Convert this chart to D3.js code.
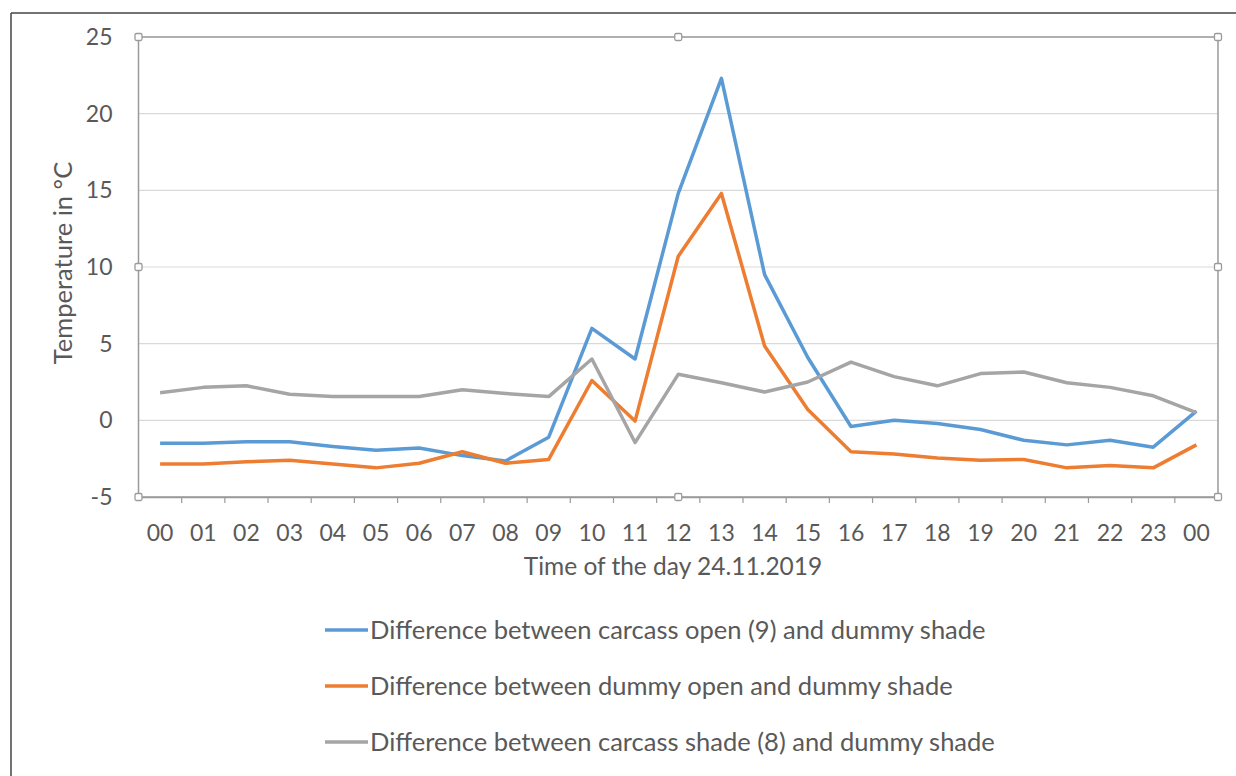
<!DOCTYPE html>
<html><head><meta charset="utf-8">
<script src="https://cdn.jsdelivr.net/npm/d3@7"></script>
<style>body{margin:0;background:#fff}svg{display:block}text{font-family:Lato,"Open Sans",sans-serif;fill:#595959}</style>
</head><body><svg id="c" width="1236" height="776"></svg>
<script>
const hours = ["00","01","02","03","04","05","06","07","08","09","10","11","12","13","14","15","16","17","18","19","20","21","22","23","00"];
const carcassOpen = [-1.5,-1.5,-1.4,-1.4,-1.7,-1.95,-1.8,-2.3,-2.65,-1.1,6.0,4.0,14.8,22.3,9.5,4.1,-0.4,0.0,-0.2,-0.6,-1.3,-1.6,-1.3,-1.75,0.6];
const dummyOpen = [-2.85,-2.85,-2.7,-2.6,-2.85,-3.1,-2.8,-2.05,-2.8,-2.55,2.6,-0.05,10.7,14.8,4.85,0.7,-2.05,-2.2,-2.45,-2.6,-2.55,-3.1,-2.95,-3.1,-1.6];
const carcassShade = [1.8,2.15,2.25,1.7,1.55,1.55,1.55,2.0,1.75,1.55,4.0,-1.45,3.0,2.45,1.85,2.5,3.8,2.85,2.25,3.05,3.15,2.45,2.15,1.6,0.5];
const yTicks = [-5,0,5,10,15,20,25];
const seriesNames = ["Difference between carcass open (9) and dummy shade","Difference between dummy open and dummy shade","Difference between carcass shade (8) and dummy shade"];
const colors = ["#5b9bd5","#ed7d31","#a5a5a5"];
const series = [carcassOpen, dummyOpen, carcassShade];

const svg = d3.select("#c");
const L=138.5, R=1218, T=37, B=497;
const idx = d3.range(hours.length);
const x = d3.scaleBand().domain(idx).range([L,R]);
const y = d3.scaleLinear().domain([-5,25]).range([B,T]);

// outer frame (partial)
svg.append("line").attr("x1",11).attr("x2",1236).attr("y1",13).attr("y2",13).attr("stroke","#444").attr("stroke-width",1.5);
svg.append("line").attr("x1",11).attr("x2",11).attr("y1",13).attr("y2",776).attr("stroke","#444").attr("stroke-width",1.5);

// gridlines
svg.append("g").selectAll("line").data(yTicks.filter(d=>d!==-5)).join("line")
  .attr("x1",L).attr("x2",R).attr("y1",d=>y(d)).attr("y2",d=>y(d)).attr("stroke","#d9d9d9").attr("stroke-width",1.2);

// plot area border (selection frame)
svg.append("rect").attr("x",L).attr("y",T).attr("width",R-L).attr("height",B-T).attr("fill","none").attr("stroke","#9a9a9a").attr("stroke-width",1.5);

// y axis labels
const ya = svg.append("g").attr("transform",`translate(${L},0)`).call(d3.axisLeft(y).tickValues(yTicks).tickFormat(d=>String(d)).tickSize(0).tickPadding(26));
ya.select(".domain").remove();
ya.selectAll("text").attr("font-size",23).attr("fill","#595959").attr("font-family","Lato");

// x axis
const xa = svg.append("g").attr("transform",`translate(0,${B})`).call(d3.axisBottom(x).tickFormat(i=>hours[i]).tickSize(0).tickPadding(28));
xa.select(".domain").attr("stroke","#9a9a9a").attr("stroke-width",1.5);
xa.selectAll("text").attr("font-size",23).attr("fill","#595959").attr("font-family","Lato");
// category boundary ticks
svg.append("g").selectAll("line").data(d3.range(1,hours.length)).join("line")
  .attr("x1",i=>x(i)).attr("x2",i=>x(i)).attr("y1",B).attr("y2",B+6).attr("stroke","#9a9a9a").attr("stroke-width",1.2);

// lines
const line = d3.line().x((d,i)=>x(i)+x.bandwidth()/2).y(d=>y(d));
series.forEach((s,k)=>{
  svg.append("path").datum(s).attr("d",line).attr("fill","none").attr("stroke",colors[k]).attr("stroke-width",3.5).attr("stroke-linejoin","round");
});

// handles
const mx=(L+R)/2, my=(T+B)/2;
[[L,T],[mx,T],[R,T],[L,my],[R,my],[L,B],[mx,B],[R,B]].forEach(([hx,hy])=>{
  svg.append("rect").attr("x",hx-3.5).attr("y",hy-3.5).attr("width",7).attr("height",7).attr("rx",1.5).attr("fill","#fff").attr("stroke","#9a9a9a").attr("stroke-width",1.3);
});

// axis titles
svg.append("text").attr("x",673).attr("y",575).attr("text-anchor","middle").attr("font-size",24.5).text("Time of the day 24.11.2019");
svg.append("text").attr("transform",`translate(72,263) rotate(-90)`).attr("text-anchor","middle").attr("font-size",25.5).text("Temperature in °C");

// legend
const lg = svg.append("g");
seriesNames.forEach((n,k)=>{
  const ly = 630 + k*56;
  lg.append("line").attr("x1",325).attr("x2",368).attr("y1",ly).attr("y2",ly).attr("stroke",colors[k]).attr("stroke-width",3.5);
  lg.append("text").attr("x",370).attr("y",ly+9).attr("font-size",25.5).text(n);
});
</script></body></html>
